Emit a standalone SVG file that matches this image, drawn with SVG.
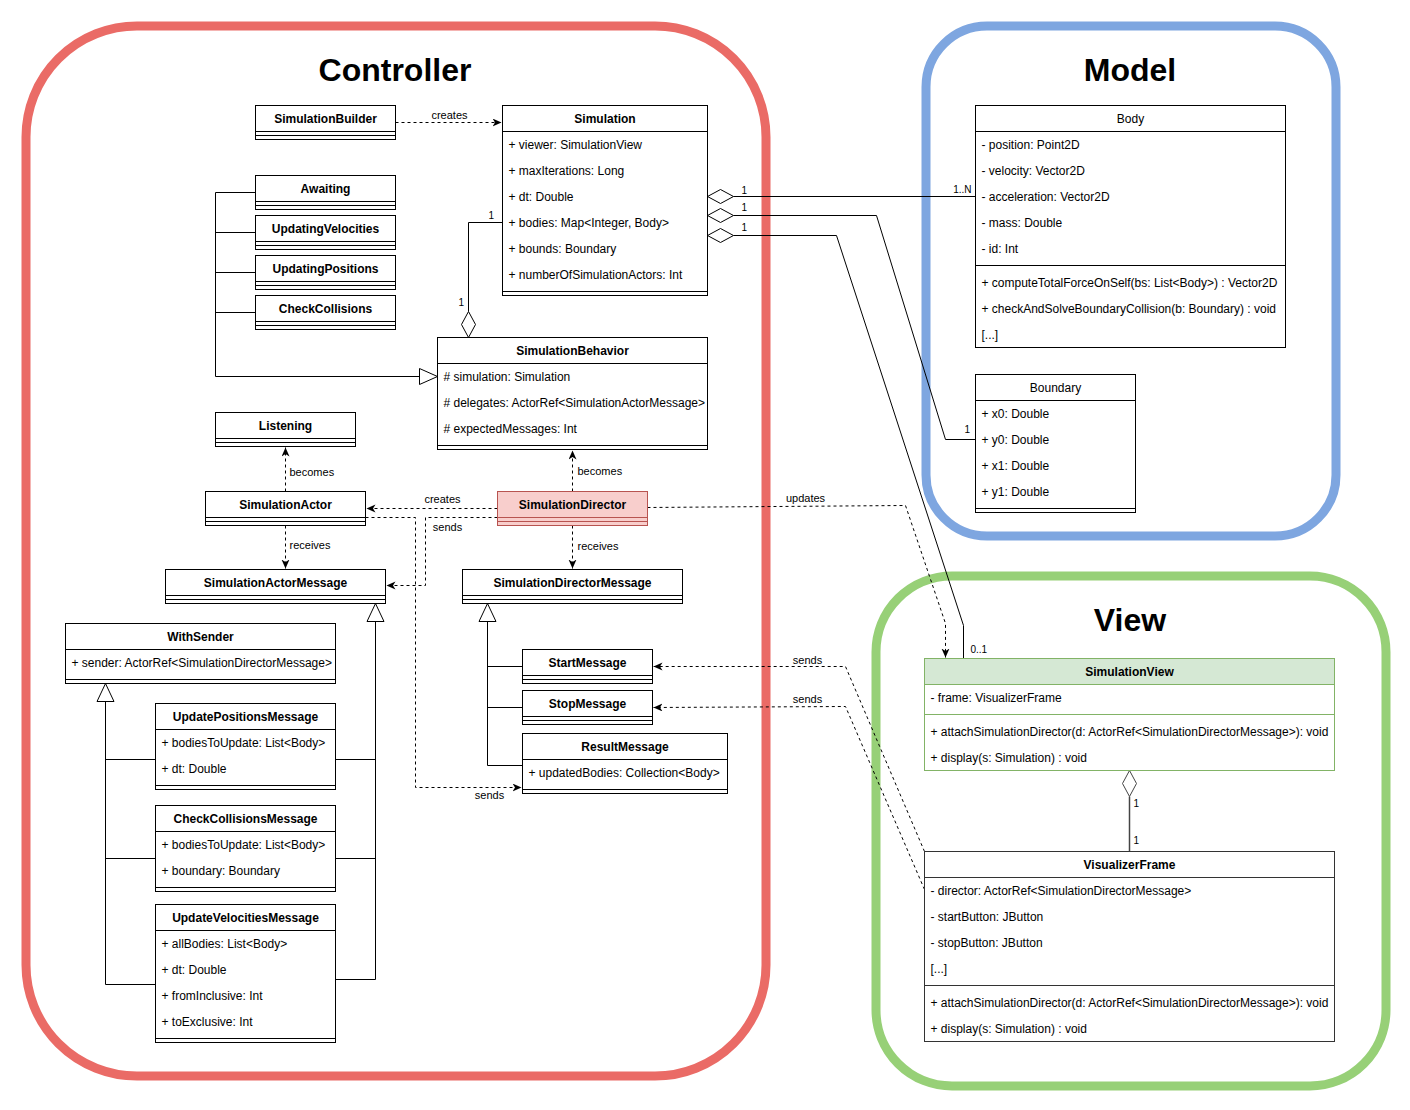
<svg xmlns="http://www.w3.org/2000/svg" width="1410" height="1110" viewBox="0 0 1410 1110">
  <style>
    .box { fill: #ffffff; stroke: #000000; stroke-width: 1; }
    .sep { stroke: #000000; stroke-width: 1; }
    .t { font-family: "Liberation Sans", Arial, Helvetica, sans-serif; font-size: 12px; fill: #000000; }
    .name { font-weight: bold; text-anchor: middle; }
    .plain { text-anchor: middle; }
    .lbl { font-family: "Liberation Sans", Arial, Helvetica, sans-serif; font-size: 11px; fill: #000000; }
    .mult { font-family: "Liberation Sans", Arial, Helvetica, sans-serif; font-size: 10px; fill: #000000; }
    .title { font-family: "Liberation Sans", Arial, Helvetica, sans-serif; font-size: 32px; font-weight: bold; text-anchor: middle; fill: #000000; }
    .edge { fill: none; stroke: #000000; stroke-width: 1; }
    .dash { stroke-dasharray: 3 3; }
    .dep { marker-end: url(#arrow); }
    .hollow { fill: #ffffff; stroke: #000000; stroke-width: 1; }
    .pkg { fill: none; stroke-width: 9; }
  </style>
  <defs>
    <marker id="arrow" markerUnits="userSpaceOnUse" markerWidth="10" markerHeight="9" refX="9" refY="4" orient="auto">
      <path d="M0,0 L9,4 L0,8 L2.5,4 Z" fill="#000000"/>
    </marker>
  </defs>

  <rect width="1410" height="1110" fill="#ffffff"/>

  <!-- package frames -->
  <g id="controller-package">
    <rect class="pkg" x="26" y="26" width="740" height="1050" rx="111" ry="111" stroke="#EA6B66"/>
    <text class="title" x="395" y="81">Controller</text>
  </g>
  <g id="model-package">
    <rect class="pkg" x="926" y="26" width="410" height="510" rx="61" ry="61" stroke="#7EA6E0"/>
    <text class="title" x="1130" y="81">Model</text>
  </g>
  <g id="view-package">
    <rect class="pkg" x="876" y="576" width="510" height="510" rx="76" ry="76" stroke="#97D077"/>
    <text class="title" x="1130" y="631">View</text>
  </g>

  <g transform="translate(0.5 0.5)">
    <!-- connectors -->
    <g id="connectors">
      <!-- dependencies -->
      <path class="edge dash dep" d="M395,122 L501,122"/>
      <text class="lbl" x="449" y="118" text-anchor="middle">creates</text>

      <path class="edge dash dep" d="M285,491 L285,447"/>
      <text class="lbl" x="289" y="475">becomes</text>

      <path class="edge dash dep" d="M572,491 L572,450"/>
      <text class="lbl" x="577" y="474">becomes</text>

      <path class="edge dash dep" d="M285,525 L285,568"/>
      <text class="lbl" x="289" y="548">receives</text>

      <path class="edge dash dep" d="M572,525 L572,568"/>
      <text class="lbl" x="577" y="549">receives</text>

      <path class="edge dash dep" d="M497,508 L366,508"/>
      <text class="lbl" x="442" y="502" text-anchor="middle">creates</text>

      <path class="edge dash dep" d="M497,517 L425,517 L425,585 L386,585"/>
      <text class="lbl" x="447" y="530" text-anchor="middle">sends</text>

      <path class="edge dash dep" d="M365,517 L415,517 L415,787 L521,787"/>
      <text class="lbl" x="489" y="798" text-anchor="middle">sends</text>

      <path class="edge dash dep" d="M647,507 L905,505 L945,623 L945,657"/>
      <text class="lbl" x="805" y="501" text-anchor="middle">updates</text>

      <path class="edge dash dep" d="M924,851 L845,666 L653,666"/>
      <text class="lbl" x="807" y="663" text-anchor="middle">sends</text>

      <path class="edge dash dep" d="M924,889 L845,706 L653,707"/>
      <text class="lbl" x="807" y="702" text-anchor="middle">sends</text>

      <!-- aggregations -->
      <path class="edge" d="M733,196 L975,196"/>
      <path class="hollow" d="M707,196 L720,189 L733,196 L720,203 Z"/>
      <text class="mult" x="741" y="193">1</text>
      <text class="mult" x="971" y="192" text-anchor="end">1..N</text>

      <path class="edge" d="M733,215 L876,215 L945,439 L975,439"/>
      <path class="hollow" d="M707,215 L720,208 L733,215 L720,222 Z"/>
      <text class="mult" x="741" y="210">1</text>
      <text class="mult" x="964" y="432">1</text>

      <path class="edge" d="M733,235 L836,235 L963,625 L963,658"/>
      <path class="hollow" d="M707,235 L720,228 L733,235 L720,242 Z"/>
      <text class="mult" x="741" y="230">1</text>
      <text class="mult" x="970" y="652">0..1</text>

      <path class="edge" d="M468,311 L468,222 L502,222"/>
      <path class="hollow" d="M468,337 L461,324 L468,311 L475,324 Z"/>
      <text class="mult" x="488" y="218">1</text>
      <text class="mult" x="458" y="305">1</text>

      <path class="edge" d="M1129,796 L1129,851" stroke="#444444" style="stroke:#444444;stroke-width:1.5"/>
      <path class="hollow" d="M1129,770 L1136,783 L1129,796 L1122,783 Z" style="stroke:#444444"/>
      <text class="mult" x="1133" y="806">1</text>
      <text class="mult" x="1133" y="843">1</text>

      <!-- generalizations -->
      <path class="edge" d="M255,192 L215,192 L215,376 L419,376 M255,232 L215,232 M255,272 L215,272 M255,312 L215,312"/>
      <path class="hollow" d="M419,368 L437,376 L419,384 Z"/>

      <path class="edge" d="M487,621 L487,765 L522,765 M487,666 L522,666 M487,707 L522,707"/>
      <path class="hollow" d="M487,603 L495.5,621 L478.5,621 Z"/>

      <path class="edge" d="M105,701 L105,984 L155,984 M105,759 L155,759 M105,858 L155,858"/>
      <path class="hollow" d="M105,683 L113.5,701 L96.5,701 Z"/>

      <path class="edge" d="M375,621 L375,979 L335,979 M375,759 L335,759 M375,858 L335,858"/>
      <path class="hollow" d="M375,603 L383.5,621 L366.5,621 Z"/>
    </g>

    <!-- Controller classes -->
    <g id="SimulationBuilder">
      <rect class="box" x="255" y="105" width="140" height="34"/>
      <path class="sep" d="M255,131 H395 M255,135 H395"/>
      <text class="t name" x="325" y="122">SimulationBuilder</text>
    </g>

    <g id="Simulation">
      <rect class="box" x="502" y="105" width="205" height="190"/>
      <path class="sep" d="M502,131 H707 M502,291 H707"/>
      <text class="t name" x="604.5" y="122">Simulation</text>
      <text class="t" x="508" y="148">+ viewer: SimulationView</text>
      <text class="t" x="508" y="174">+ maxIterations: Long</text>
      <text class="t" x="508" y="200">+ dt: Double</text>
      <text class="t" x="508" y="226">+ bodies: Map&lt;Integer, Body&gt;</text>
      <text class="t" x="508" y="252">+ bounds: Boundary</text>
      <text class="t" x="508" y="278">+ numberOfSimulationActors: Int</text>
    </g>

    <g id="Awaiting">
      <rect class="box" x="255" y="175" width="140" height="34"/>
      <path class="sep" d="M255,201 H395 M255,205 H395"/>
      <text class="t name" x="325" y="192">Awaiting</text>
    </g>

    <g id="UpdatingVelocities">
      <rect class="box" x="255" y="215" width="140" height="34"/>
      <path class="sep" d="M255,241 H395 M255,245 H395"/>
      <text class="t name" x="325" y="232">UpdatingVelocities</text>
    </g>

    <g id="UpdatingPositions">
      <rect class="box" x="255" y="255" width="140" height="34"/>
      <path class="sep" d="M255,281 H395 M255,285 H395"/>
      <text class="t name" x="325" y="272">UpdatingPositions</text>
    </g>

    <g id="CheckCollisions">
      <rect class="box" x="255" y="295" width="140" height="34"/>
      <path class="sep" d="M255,321 H395 M255,325 H395"/>
      <text class="t name" x="325" y="312">CheckCollisions</text>
    </g>

    <g id="SimulationBehavior">
      <rect class="box" x="437" y="337" width="270" height="112"/>
      <path class="sep" d="M437,363 H707 M437,445 H707"/>
      <text class="t name" x="572" y="354">SimulationBehavior</text>
      <text class="t" x="443" y="380"># simulation: Simulation</text>
      <text class="t" x="443" y="406"># delegates: ActorRef&lt;SimulationActorMessage&gt;</text>
      <text class="t" x="443" y="432"># expectedMessages: Int</text>
    </g>

    <g id="Listening">
      <rect class="box" x="215" y="412" width="140" height="34"/>
      <path class="sep" d="M215,438 H355 M215,442 H355"/>
      <text class="t name" x="285" y="429">Listening</text>
    </g>

    <g id="SimulationActor">
      <rect class="box" x="205" y="491" width="160" height="34"/>
      <path class="sep" d="M205,517 H365 M205,521 H365"/>
      <text class="t name" x="285" y="508">SimulationActor</text>
    </g>

    <g id="SimulationDirector">
      <rect class="box" x="497" y="491" width="150" height="34" style="fill:#F8CECC;stroke:#B85450"/>
      <path class="sep" d="M497,517 H647 M497,521 H647" style="stroke:#B85450"/>
      <text class="t name" x="572" y="508">SimulationDirector</text>
    </g>

    <g id="SimulationActorMessage">
      <rect class="box" x="165" y="569" width="220" height="34"/>
      <path class="sep" d="M165,595 H385 M165,599 H385"/>
      <text class="t name" x="275" y="586">SimulationActorMessage</text>
    </g>

    <g id="SimulationDirectorMessage">
      <rect class="box" x="462" y="569" width="220" height="34"/>
      <path class="sep" d="M462,595 H682 M462,599 H682"/>
      <text class="t name" x="572" y="586">SimulationDirectorMessage</text>
    </g>

    <g id="WithSender">
      <rect class="box" x="65" y="623" width="270" height="60"/>
      <path class="sep" d="M65,649 H335 M65,679 H335"/>
      <text class="t name" x="200" y="640">WithSender</text>
      <text class="t" x="71" y="666">+ sender: ActorRef&lt;SimulationDirectorMessage&gt;</text>
    </g>

    <g id="UpdatePositionsMessage">
      <rect class="box" x="155" y="703" width="180" height="86"/>
      <path class="sep" d="M155,729 H335 M155,785 H335"/>
      <text class="t name" x="245" y="720">UpdatePositionsMessage</text>
      <text class="t" x="161" y="746">+ bodiesToUpdate: List&lt;Body&gt;</text>
      <text class="t" x="161" y="772">+ dt: Double</text>
    </g>

    <g id="CheckCollisionsMessage">
      <rect class="box" x="155" y="805" width="180" height="86"/>
      <path class="sep" d="M155,831 H335 M155,887 H335"/>
      <text class="t name" x="245" y="822">CheckCollisionsMessage</text>
      <text class="t" x="161" y="848">+ bodiesToUpdate: List&lt;Body&gt;</text>
      <text class="t" x="161" y="874">+ boundary: Boundary</text>
    </g>

    <g id="UpdateVelocitiesMessage">
      <rect class="box" x="155" y="904" width="180" height="138"/>
      <path class="sep" d="M155,930 H335 M155,1038 H335"/>
      <text class="t name" x="245" y="921">UpdateVelocitiesMessage</text>
      <text class="t" x="161" y="947">+ allBodies: List&lt;Body&gt;</text>
      <text class="t" x="161" y="973">+ dt: Double</text>
      <text class="t" x="161" y="999">+ fromInclusive: Int</text>
      <text class="t" x="161" y="1025">+ toExclusive: Int</text>
    </g>

    <g id="StartMessage">
      <rect class="box" x="522" y="649" width="130" height="34"/>
      <path class="sep" d="M522,675 H652 M522,679 H652"/>
      <text class="t name" x="587" y="666">StartMessage</text>
    </g>

    <g id="StopMessage">
      <rect class="box" x="522" y="690" width="130" height="34"/>
      <path class="sep" d="M522,716 H652 M522,720 H652"/>
      <text class="t name" x="587" y="707">StopMessage</text>
    </g>

    <g id="ResultMessage">
      <rect class="box" x="522" y="733" width="205" height="60"/>
      <path class="sep" d="M522,759 H727 M522,789 H727"/>
      <text class="t name" x="624.5" y="750">ResultMessage</text>
      <text class="t" x="528" y="776">+ updatedBodies: Collection&lt;Body&gt;</text>
    </g>

    <!-- Model classes -->
    <g id="Body">
      <rect class="box" x="975" y="105" width="310" height="242"/>
      <path class="sep" d="M975,131 H1285 M975,265 H1285"/>
      <text class="t plain" x="1130" y="122">Body</text>
      <text class="t" x="981" y="148">- position: Point2D</text>
      <text class="t" x="981" y="174">- velocity: Vector2D</text>
      <text class="t" x="981" y="200">- acceleration: Vector2D</text>
      <text class="t" x="981" y="226">- mass: Double</text>
      <text class="t" x="981" y="252">- id: Int</text>
      <text class="t" x="981" y="286">+ computeTotalForceOnSelf(bs: List&lt;Body&gt;) : Vector2D</text>
      <text class="t" x="981" y="312">+ checkAndSolveBoundaryCollision(b: Boundary) : void</text>
      <text class="t" x="981" y="338">[...]</text>
    </g>

    <g id="Boundary">
      <rect class="box" x="975" y="374" width="160" height="138"/>
      <path class="sep" d="M975,400 H1135 M975,508 H1135"/>
      <text class="t plain" x="1055" y="391">Boundary</text>
      <text class="t" x="981" y="417">+ x0: Double</text>
      <text class="t" x="981" y="443">+ y0: Double</text>
      <text class="t" x="981" y="469">+ x1: Double</text>
      <text class="t" x="981" y="495">+ y1: Double</text>
    </g>

    <!-- View classes -->
    <g id="SimulationView">
      <rect x="924" y="658" width="410" height="112" fill="#ffffff" stroke="#82B366"/>
      <rect x="924" y="658" width="410" height="26" fill="#D5E8D4" stroke="#82B366"/>
      <path d="M924,714 H1334" stroke="#82B366"/>
      <text class="t name" x="1129" y="675">SimulationView</text>
      <text class="t" x="930" y="701">- frame: VisualizerFrame</text>
      <text class="t" x="930" y="735">+ attachSimulationDirector(d: ActorRef&lt;SimulationDirectorMessage&gt;): void</text>
      <text class="t" x="930" y="761">+ display(s: Simulation) : void</text>
    </g>

    <g id="VisualizerFrame">
      <rect class="box" x="924" y="851" width="410" height="190" style="stroke:#333333"/>
      <path class="sep" d="M924,877 H1334 M924,985 H1334" style="stroke:#333333"/>
      <text class="t name" x="1129" y="868">VisualizerFrame</text>
      <text class="t" x="930" y="894">- director: ActorRef&lt;SimulationDirectorMessage&gt;</text>
      <text class="t" x="930" y="920">- startButton: JButton</text>
      <text class="t" x="930" y="946">- stopButton: JButton</text>
      <text class="t" x="930" y="972">[...]</text>
      <text class="t" x="930" y="1006">+ attachSimulationDirector(d: ActorRef&lt;SimulationDirectorMessage&gt;): void</text>
      <text class="t" x="930" y="1032">+ display(s: Simulation) : void</text>
    </g>
  </g>
</svg>
